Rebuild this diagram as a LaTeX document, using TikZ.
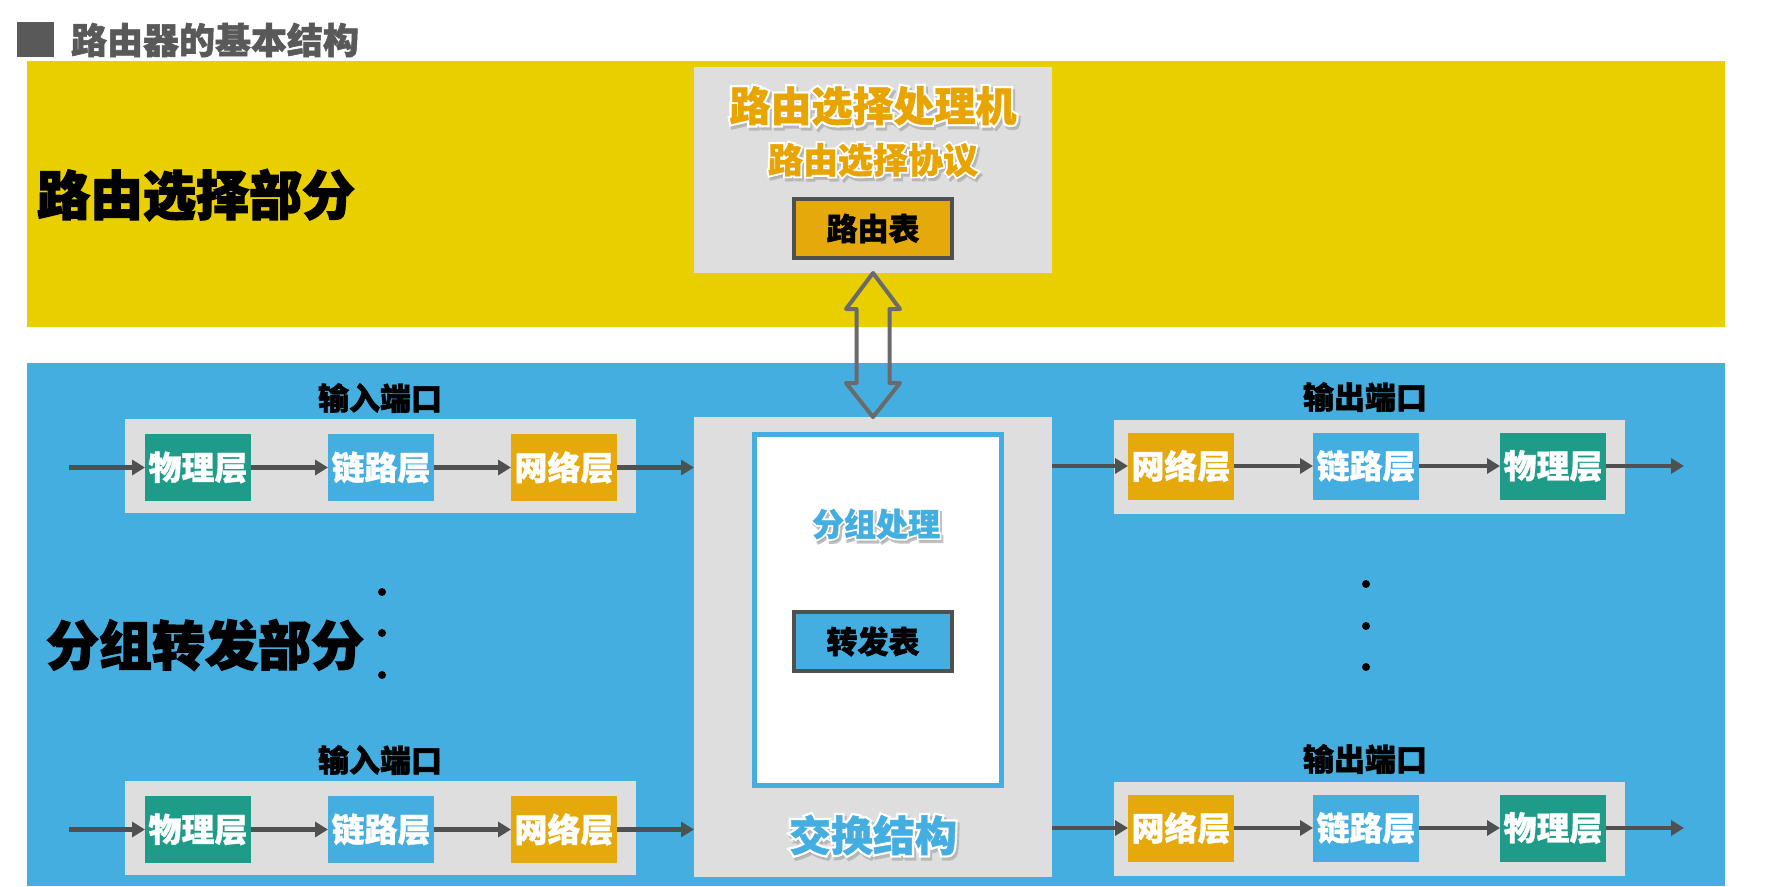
\documentclass[tikz,border=0pt]{standalone}
\usepackage{fontspec}
\newfontfamily\cjk{Noto Sans CJK SC}
\usetikzlibrary{arrows.meta,calc}
\definecolor{ybg}{HTML}{E9CE00}
\definecolor{bbg}{HTML}{45AEE0}
\definecolor{gbox}{HTML}{DEDEDE}
\definecolor{teal1}{HTML}{1E9C89}
\definecolor{org}{HTML}{E5A90B}
\definecolor{otext}{HTML}{E8A400}
\definecolor{dgray}{HTML}{505050}
\definecolor{tgray}{HTML}{595959}
\definecolor{agray}{HTML}{6A6A6A}
\definecolor{shd}{HTML}{A8A8A8}
\newcommand\fsz[1]{\fontsize{#1}{#1}\selectfont}
\newcommand\heavy[1]{\addfontfeature{FakeBold=#1}}
\begin{document}
\begin{tikzpicture}[x=1pt,y=-1pt,
  every node/.style={inner sep=0pt, outer sep=0pt},
  gbx/.style={fill=gbox},
  lay/.style={minimum width=106pt, minimum height=67pt, text=white, font=\cjk\bfseries\fsz{33}\heavy{1}},
  phy/.style={lay, fill=teal1},
  lnk/.style={lay, fill=bbg},
  net/.style={lay, fill=org},
  portbox/.style={gbx, minimum width=511pt, minimum height=94pt},
  portlbl/.style={font=\cjk\bfseries\fsz{31}\heavy{1.5}, text=black},
  tbl/.style={draw=dgray, line width=4pt, minimum width=158pt, minimum height=59pt, font=\cjk\bfseries\fsz{31}\heavy{1.5}, text=black},
  flow/.style={draw=dgray, line width=4.5pt, -{Triangle[length=13pt,width=15pt]}},
  dotn/.style={circle, fill=black, minimum size=8pt},
  part/.style={font=\cjk\bfseries\fsz{53}\heavy{2.5}, anchor=west, text=black},
  halo/.style={text=white},
  shadow/.style={text=shd, opacity=0.7},
]
\useasboundingbox (0,0) rectangle (1774,886);
\fill[white] (0,0) rectangle (1774,886);

% title
\node[fill=tgray, minimum width=37pt, minimum height=35pt] (sq) at (35.5,39.5) {};
\node[anchor=west, font=\cjk\bfseries\fsz{36}\heavy{1.5}, text=tgray] (title) at (71,40) {路由器的基本结构};

% bands
\node[fill=ybg, minimum width=1698pt, minimum height=266pt, anchor=north west] (yb) at (27,61) {};
\node[fill=bbg, minimum width=1698pt, minimum height=523pt, anchor=north west] (bb) at (27,363) {};

\node[part] (rsp) at (37,195) {路由选择部分};
\node[part] (fwp) at (46,645) {分组转发部分};

% routing processor
\node[gbx, minimum width=358pt, minimum height=206pt] (rp) at (873,170) {};
\node[shadow, font=\cjk\bfseries\fsz{41}\heavy{12}] at (875,109) {路由选择处理机};
\node[halo, font=\cjk\bfseries\fsz{41}\heavy{12}] at (873,106) {路由选择处理机};
\node[font=\cjk\bfseries\fsz{41}\heavy{1}, text=otext] (rpt) at (873,106) {路由选择处理机};
\node[shadow, font=\cjk\bfseries\fsz{35}\heavy{12}] at (875,163) {路由选择协议};
\node[halo, font=\cjk\bfseries\fsz{35}\heavy{12}] at (873,160) {路由选择协议};
\node[font=\cjk\bfseries\fsz{35}\heavy{1}, text=otext] (rpp) at (873,160) {路由选择协议};
\node[tbl, fill=org] (rt) at (873,228.5) {路由表};

% switch fabric
\node[gbx, minimum width=358pt, minimum height=460pt] (sw) at (873,647) {};
\node[draw=bbg, line width=5pt, fill=white, minimum width=247pt, minimum height=351pt] (wb) at (878,610) {};
\node[shadow, font=\cjk\bfseries\fsz{32}\heavy{12}] at (878,527) {分组处理};
\node[halo, font=\cjk\bfseries\fsz{32}\heavy{12}] at (876,524) {分组处理};
\node[font=\cjk\bfseries\fsz{32}\heavy{1}, text=bbg] (pp) at (876,524) {分组处理};
\node[tbl, fill=bbg] (ft) at (873,641.5) {转发表};
\node[shadow, font=\cjk\bfseries\fsz{42}\heavy{12}] at (875,838) {交换结构};
\node[halo, font=\cjk\bfseries\fsz{42}\heavy{12}] at (873,835) {交换结构};
\node[font=\cjk\bfseries\fsz{42}\heavy{1}, text=bbg] (swt) at (873,835) {交换结构};

% double arrow between processor and switch fabric
\draw[agray, line width=4pt, line join=round]
  (rp.south) -- ($(rp.south)+(27,36)$) -- ($(rp.south)+(16.5,36)$)
  -- ($(sw.north)+(16.5,-34)$) -- ($(sw.north)+(27,-34)$) -- (sw.north)
  -- ($(sw.north)+(-27,-34)$) -- ($(sw.north)+(-16.5,-34)$)
  -- ($(rp.south)+(-16.5,36)$) -- ($(rp.south)+(-27,36)$) -- cycle;

% ports
\foreach \r/\dy in {1/0,2/362}{
  % input port
  \node[portbox] (ip\r) at (380.5,466+\dy) {};
  \node[portlbl] (ipl\r) at (380,398+\dy) {输入端口};
  \node[phy] (ia\r) at (198,467.5+\dy) {物理层};
  \node[lnk] (ib\r) at (381,467.5+\dy) {链路层};
  \node[net] (ic\r) at (564,467.5+\dy) {网络层};
  \coordinate (iin\r) at (69,467.5+\dy);
  \draw[flow] (iin\r) -- (ia\r);
  \draw[flow] (ia\r) -- (ib\r);
  \draw[flow] (ib\r) -- (ic\r);
  \draw[flow] (ic\r) -- (ic\r -| sw.west);
  % output port
  \node[portbox] (op\r) at (1369,466.5+\dy) {};
  \node[portlbl] (opl\r) at (1365,397+\dy) {输出端口};
  \node[net] (oa\r) at (1181,466+\dy) {网络层};
  \node[lnk] (ob\r) at (1366,466+\dy) {链路层};
  \node[phy] (oc\r) at (1553,466+\dy) {物理层};
  \coordinate (oout\r) at (1684,466+\dy);
  \draw[flow] (sw.east |- oa\r) -- (oa\r);
  \draw[flow] (oa\r) -- (ob\r);
  \draw[flow] (ob\r) -- (oc\r);
  \draw[flow] (oc\r) -- (oout\r);
}

% ellipsis dots
\node[dotn] (dl1) at (382,592) {};
\node[dotn] (dl2) at (382,633) {};
\node[dotn] (dl3) at (382,675) {};
\node[dotn] (dr1) at (1366,584) {};
\node[dotn] (dr2) at (1366,626) {};
\node[dotn] (dr3) at (1366,667) {};
\end{tikzpicture}
\end{document}
